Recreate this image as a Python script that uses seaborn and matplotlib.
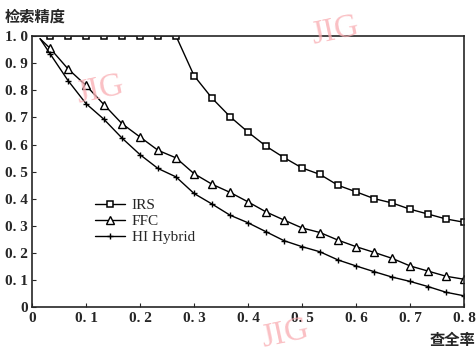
import numpy as np
import pandas as pd
import seaborn as sns
import matplotlib.pyplot as plt

# 数据 (查全率 k/30)
recall = [k / 30 for k in range(1, 25)]
irs = [1.0, 1.0, 1.0, 1.0, 1.0, 1.0, 1.0, 1.0,
       0.854, 0.771, 0.703, 0.646, 0.594, 0.552, 0.514, 0.490,
       0.450, 0.426, 0.401, 0.385, 0.362, 0.344, 0.326, 0.314]
ffc = [0.955, 0.879, 0.818, 0.747, 0.677, 0.628, 0.579, 0.551,
       0.493, 0.454, 0.424, 0.389, 0.352, 0.322, 0.293, 0.276,
       0.248, 0.224, 0.203, 0.181, 0.153, 0.134, 0.115, 0.104]
hybrid = [0.935, 0.836, 0.751, 0.693, 0.624, 0.563, 0.512, 0.481,
          0.420, 0.381, 0.340, 0.312, 0.279, 0.246, 0.224, 0.205,
          0.175, 0.153, 0.132, 0.112, 0.096, 0.077, 0.056, 0.043]
start_x, start_y = 0.015, 0.99
xticks = [0, 0.1, 0.2, 0.3, 0.4, 0.5, 0.6, 0.7, 0.8]
yticks = [0, 0.1, 0.2, 0.3, 0.4, 0.5, 0.6, 0.7, 0.8, 0.9, 1.0]
xlabels = ['0', '0. 1', '0. 2', '0. 3', '0. 4', '0. 5', '0. 6', '0. 7', '0. 8']
ylabels = ['0', '0. 1', '0. 2', '0. 3', '0. 4', '0. 5', '0. 6', '0. 7', '0. 8', '0. 9', '1. 0']

sns.set_style('ticks')
plt.rcParams['font.family'] = ['Liberation Serif', 'Noto Sans CJK SC', 'DejaVu Sans']

fig = plt.figure(figsize=(4.76, 3.59), dpi=100)
ax = fig.add_axes([0.0672, 0.1435, 0.9078, 0.7562])

df_irs = pd.DataFrame({'x': [0] + recall, 'y': [1.0] + irs})
df_ffc = pd.DataFrame({'x': [start_x] + recall, 'y': [start_y] + ffc})
df_hyb = pd.DataFrame({'x': [start_x] + recall, 'y': [start_y] + hybrid})

sns.lineplot(data=df_irs, x='x', y='y', ax=ax, color='black', lw=1.0,
             marker='s', markersize=5, markerfacecolor='white', markeredgecolor='black',
             markeredgewidth=1.1, markevery=list(range(1, 25)), label='IRS')
sns.lineplot(data=df_ffc, x='x', y='y', ax=ax, color='black', lw=1.0,
             marker='^', markersize=6, markerfacecolor='white', markeredgecolor='black',
             markeredgewidth=1.0, markevery=list(range(1, 25)), label='FFC')
sns.lineplot(data=df_hyb, x='x', y='y', ax=ax, color='black', lw=1.0,
             marker='+', markersize=5, markeredgewidth=1.0, markeredgecolor='black',
             markevery=list(range(1, 25)), label='HI Hybrid')

ax.set_xlim(0, 0.8)
ax.set_ylim(0, 1.0)
ax.set_xticks(xticks)
ax.set_xticklabels(xlabels, fontsize=11, fontweight='bold')
ax.set_yticks(yticks)
ax.set_yticklabels(ylabels, fontsize=11, fontweight='bold')
ax.tick_params(direction='in', length=3, width=0.8, pad=3)
ax.set_xlabel('')
ax.set_ylabel('')
for s in ax.spines.values():
    s.set_linewidth(1.2)

ax.legend(loc='upper left', bbox_to_anchor=(0.128, 0.43), frameon=False,
          borderpad=0, handlelength=2.0, handletextpad=0.4, labelspacing=0.15,
          prop={'family': 'Liberation Serif', 'size': 11})

fig.text(0.01, 0.955, '检索精度', family=['Noto Sans CJK SC'], fontsize=11,
         fontweight='bold', va='center', ha='left')
fig.text(0.998, 0.052, '查全率', family=['Noto Sans CJK SC'], fontsize=11,
         fontweight='bold', va='center', ha='right')

# 水印
for (wx, wy) in [(0.21, 0.75), (0.705, 0.915), (0.6, 0.07)]:
    fig.text(wx, wy, 'JIG', color='#f9b0b5', fontsize=24, family='Liberation Serif',
             rotation=12, ha='center', va='center', alpha=0.8)

plt.savefig('out.png', dpi=100)
